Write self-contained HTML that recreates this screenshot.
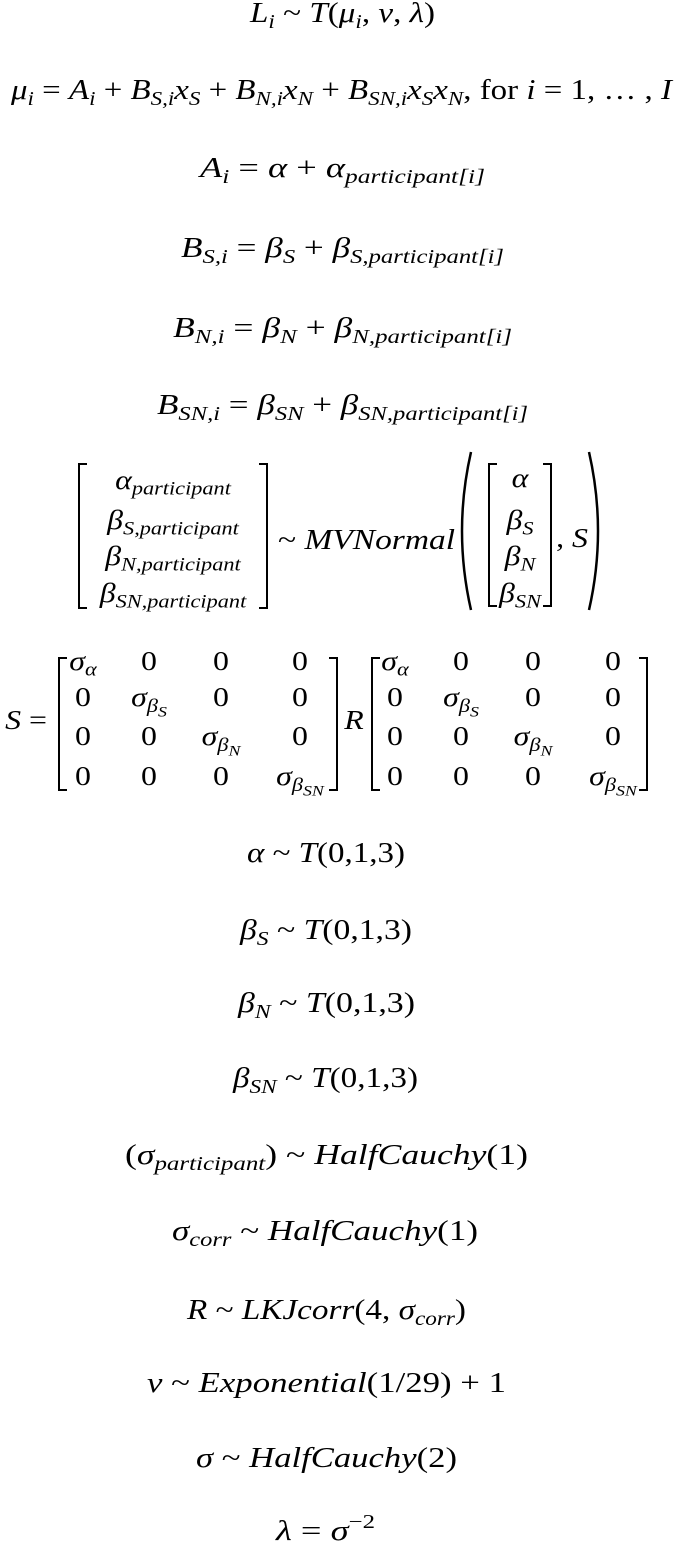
<!DOCTYPE html>
<html><head><meta charset="utf-8">
<style>
html,body{margin:0;padding:0;background:#fff;}
body{width:675px;height:1544px;position:relative;overflow:hidden;font-family:"Liberation Serif","DejaVu Serif",serif;color:#000;}
.ln{position:absolute;font-size:29px;line-height:34px;white-space:nowrap;transform-origin:0 0;display:inline-block;}
i{font-style:italic;}
sub{font-size:70%;vertical-align:-0.3em;line-height:0;font-style:italic;}
sup{font-size:68%;vertical-align:0.6em;line-height:0;}
.a{position:absolute;font-size:27px;line-height:32px;white-space:nowrap;transform:translateX(-50%) scaleX(1.18);}
.br{position:absolute;border:2px solid #000;}
.bl{border-right:none;width:7px;}
.bR{border-left:none;width:7px;}
</style></head>
<body>
<span class="ln" id="l0"><i>L</i><sub>i</sub> ~ <i>T</i>(<i>μ</i><sub>i</sub>, <i>ν</i>, <i>λ</i>)</span>
<span class="ln" id="l1"><i>μ</i><sub>i</sub> = <i>A</i><sub>i</sub> + <i>B</i><sub>S,i</sub><i>x</i><sub>S</sub> + <i>B</i><sub>N,i</sub><i>x</i><sub>N</sub> + <i>B</i><sub>SN,i</sub><i>x</i><sub>S</sub><i>x</i><sub>N</sub>, for <i>i</i> = 1, … , <i>I</i></span>
<span class="ln" id="l2"><i>A</i><sub>i</sub> = <i>α</i> + <i>α</i><sub>participant[i]</sub></span>
<span class="ln" id="l3"><i>B</i><sub>S,i</sub> = <i>β</i><sub>S</sub> + <i>β</i><sub>S,participant[i]</sub></span>
<span class="ln" id="l4"><i>B</i><sub>N,i</sub> = <i>β</i><sub>N</sub> + <i>β</i><sub>N,participant[i]</sub></span>
<span class="ln" id="l5"><i>B</i><sub>SN,i</sub> = <i>β</i><sub>SN</sub> + <i>β</i><sub>SN,participant[i]</sub></span>
<span class="ln" id="l6">~ <i>MVNormal</i></span>
<span class="ln" id="l7"><i>α</i> ~ <i>T</i>(0,1,3)</span>
<span class="ln" id="l8"><i>β</i><sub>S</sub> ~ <i>T</i>(0,1,3)</span>
<span class="ln" id="l9"><i>β</i><sub>N</sub> ~ <i>T</i>(0,1,3)</span>
<span class="ln" id="l10"><i>β</i><sub>SN</sub> ~ <i>T</i>(0,1,3)</span>
<span class="ln" id="l11">(<i>σ</i><sub>participant</sub>) ~ <i>HalfCauchy</i>(1)</span>
<span class="ln" id="l12"><i>σ</i><sub>corr</sub> ~ <i>HalfCauchy</i>(1)</span>
<span class="ln" id="l13"><i>R</i> ~ <i>LKJcorr</i>(4, <i>σ</i><sub>corr</sub>)</span>
<span class="ln" id="l14"><i>ν</i> ~ <i>Exponential</i>(1/29) + 1</span>
<span class="ln" id="l15"><i>σ</i> ~ <i>HalfCauchy</i>(2)</span>
<span class="ln" id="l16"><i>λ</i> = <i>σ</i><sup>−2</sup></span>

<!-- MVNormal block -->
<div>
<div class="br bl" style="left:78px;top:463px;height:142px"></div>
<div class="br bR" style="left:259px;top:463px;height:142px"></div>
<div class="a" style="left:173px;top:464px"><i>α</i><sub>participant</sub></div>
<div class="a" style="left:173px;top:504px"><i>β</i><sub>S,participant</sub></div>
<div class="a" style="left:173px;top:540px"><i>β</i><sub>N,participant</sub></div>
<div class="a" style="left:173px;top:577px"><i>β</i><sub>SN,participant</sub></div>
<svg style="position:absolute;left:455px;top:450px" width="160" height="162">
<path d="M16 2 Q-2 81 16 160" stroke="#000" stroke-width="2.5" fill="none"/>
<path d="M134 2 Q152 81 134 160" stroke="#000" stroke-width="2.5" fill="none"/>
</svg>
<div class="br bl" style="left:488px;top:463px;height:140px"></div>
<div class="br bR" style="left:543px;top:463px;height:140px"></div>
<div class="a" style="left:520px;top:462px"><i>α</i></div>
<div class="a" style="left:520px;top:504px"><i>β</i><sub>S</sub></div>
<div class="a" style="left:520px;top:540px"><i>β</i><sub>N</sub></div>
<div class="a" style="left:520px;top:577px"><i>β</i><sub>SN</sub></div>
<div class="a" style="left:572px;top:522px">, <i>S</i></div>
</div>

<!-- S matrix -->
<div>
<div class="a" style="left:26px;top:704px"><i>S</i> =</div>
<div class="br bl" style="left:58px;top:657px;height:130px"></div>
<div class="br bR" style="left:329px;top:657px;height:130px"></div>
<div class="a" style="left:354px;top:704px"><i>R</i></div>
<div class="br bl" style="left:371px;top:657px;height:130px"></div>
<div class="br bR" style="left:639px;top:657px;height:130px"></div>
<div id="cells"></div>
</div>

<script>
// [left, right, vertical center] targets for each equation line
const lineBoxes = [
 [250,435,15],[11,672,92],[200,485,170],[181,504,250],[173,512,330],[157,528,407],
 [278,455,542],
 [247,405,855],[240,412,932],[238,415,1005],[233,418,1080],[125,528,1157],
 [172,478,1233],[187,466,1312],[147,506,1385],[196,457,1460],[276,375,1533]
];
lineBoxes.forEach((b, k) => {
  const el = document.getElementById('l' + k);
  const w = el.getBoundingClientRect().width;
  el.style.left = b[0] + 'px';
  el.style.top = (b[2] - 19) + 'px';
  el.style.transform = 'scaleX(' + ((b[1] - b[0]) / w) + ')';
});
const diag = ['<i>σ</i><sub>α</sub>','<i>σ</i><sub>β<sub style="font-size:80%">S</sub></sub>','<i>σ</i><sub>β<sub style="font-size:80%">N</sub></sub>','<i>σ</i><sub>β<sub style="font-size:80%">SN</sub></sub>'];
const cols1 = [83,149,221,300], cols2 = [395,461,533,613], rows = [662,698,737,777];
const host = document.getElementById('cells');
[cols1, cols2].forEach(cols => {
  for (let r = 0; r < 4; r++) for (let c = 0; c < 4; c++) {
    const d = document.createElement('div');
    d.className = 'a';
    d.style.left = cols[c] + 'px';
    d.style.top = (rows[r] - 17) + 'px';
    d.innerHTML = r === c ? diag[r] : '0';
    
    
    host.appendChild(d);
  }
});
</script>
</body></html>
